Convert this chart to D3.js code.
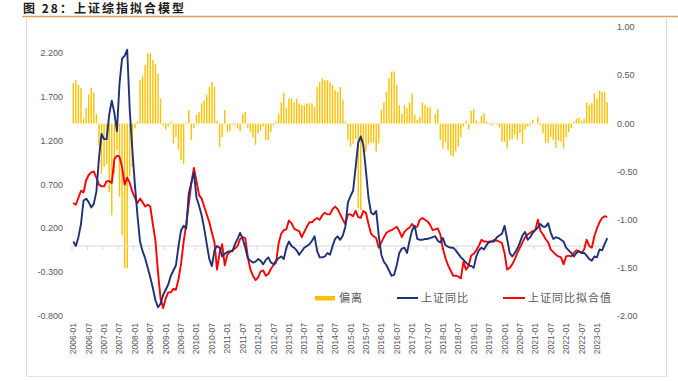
<!DOCTYPE html>
<html><head><meta charset="utf-8">
<script src="https://cdn.jsdelivr.net/npm/d3@7"></script>
<style>body{margin:0;background:#fff;}svg{display:block}</style>
</head><body>
<svg id="c" width="678" height="381"></svg>
<script>
// ---- data ----
const startYear = 2006, nMonths = 209;
const months = [];
for (let i = 0; i < nMonths; i++) {
  months.push((startYear + Math.floor(i / 12)) + "-" + String(i % 12 + 1).padStart(2, "0"));
}
const tickLabels = ["2006-01","2006-07","2007-01","2007-07","2008-01","2008-07","2009-01","2009-07",
  "2010-01","2010-07","2011-01","2011-07","2012-01","2012-07","2013-01","2013-07","2014-01","2014-07",
  "2015-01","2015-07","2016-01","2016-07","2017-01","2017-07","2018-01","2018-07","2019-01","2019-07",
  "2020-01","2020-07","2021-01","2021-07","2022-01","2022-07","2023-01"];
const leftTicks = [2.2, 1.7, 1.2, 0.7, 0.2, -0.3, -0.8];
const rightTicks = [1, 0.5, 0, -0.5, -1, -1.5, -2];
const seriesNames = ["偏离", "上证同比", "上证同比拟合值"];

// 偏离 (right axis)
const deviation = [
 0.42,0.45,0.40,0.37,0.05,0.16,0.30,0.37,0.32,0.10,
 -0.23,-0.52,-0.45,-0.42,-0.71,-0.95,-0.52,-0.28,-0.76,-1.16,
 -1.50,-1.50,-0.55,-0.45,-0.05,0.02,0.45,0.49,0.61,0.73,
 0.73,0.66,0.62,0.52,0.26,-0.02,-0.06,-0.03,0.02,-0.21,
 -0.14,-0.27,-0.38,-0.42,0.01,0.14,-0.17,-0.05,0.09,0.12,
 0.21,0.24,0.30,0.38,0.43,0.38,0.03,-0.24,-0.14,0.14,
 -0.09,-0.08,-0.01,-0.02,-0.05,-0.08,0.10,0.12,-0.05,-0.09,
 -0.14,-0.22,-0.10,-0.07,-0.03,-0.17,-0.17,-0.09,-0.02,0.02,
 0.10,0.22,0.32,0.16,0.26,0.26,0.22,0.26,0.21,0.19,
 0.19,0.21,0.21,0.21,0.17,0.38,0.43,0.47,0.45,0.45,
 0.43,0.40,0.35,0.33,0.38,0.25,0.02,-0.17,-0.24,-0.21,
 -0.16,-0.88,-0.90,-0.29,-0.29,-0.22,-0.20,-0.20,-0.29,-0.20,
 0.14,0.22,0.33,0.47,0.54,0.54,0.40,0.19,0.10,0.19,
 0.16,0.22,0.31,0.09,0.04,0.07,0.22,0.19,0.17,0.17,
 0.00,0.10,0.15,-0.17,-0.26,-0.19,-0.28,-0.33,-0.34,-0.29,
 -0.24,-0.14,-0.03,0.03,-0.06,0.13,0.15,0.03,0.01,0.08,
 0.11,0.02,-0.01,-0.02,0.01,-0.01,-0.04,-0.19,-0.19,-0.26,
 -0.17,-0.16,-0.12,-0.17,-0.10,-0.21,-0.06,-0.03,-0.02,0.04,
 0.00,0.07,-0.02,-0.10,-0.20,-0.20,-0.14,-0.17,-0.25,-0.18,
 -0.19,-0.26,-0.14,-0.09,-0.05,0.02,0.05,0.06,0.03,0.05,
 0.22,0.19,0.21,0.31,0.26,0.34,0.33,0.33,0.22];

// 上证同比 (left axis)
const szYoY = [
 0.05,0.00,0.10,0.25,0.52,0.54,0.50,0.44,0.48,0.62,
 1.00,1.28,1.22,1.22,1.50,1.66,1.52,1.31,1.85,2.14,
 2.17,2.24,1.55,1.10,0.70,0.35,0.05,-0.06,-0.14,-0.25,
 -0.36,-0.48,-0.62,-0.70,-0.66,-0.56,-0.50,-0.44,-0.34,-0.28,
 -0.22,0.00,0.18,0.23,0.20,0.60,0.72,0.84,0.55,0.46,
 0.35,0.20,0.02,-0.15,-0.23,-0.05,0.00,-0.02,-0.12,-0.09,
 -0.07,-0.06,-0.06,0.02,0.08,0.15,0.08,-0.02,-0.14,-0.17,
 -0.19,-0.18,-0.15,-0.17,-0.21,-0.16,-0.13,-0.19,-0.21,-0.17,
 -0.14,-0.12,-0.15,-0.02,0.05,0.00,-0.02,-0.05,-0.10,-0.06,
 -0.02,0.00,0.02,0.06,0.11,-0.06,-0.13,-0.13,-0.12,-0.08,
 -0.10,0.00,0.08,0.11,0.07,0.12,0.22,0.50,0.57,0.63,
 0.90,1.18,1.25,1.15,0.86,0.55,0.38,0.36,0.40,0.12,
 -0.10,-0.18,-0.22,-0.28,-0.34,-0.33,-0.22,-0.08,-0.03,-0.02,
 -0.08,0.06,0.18,0.23,0.08,0.07,0.07,0.08,0.08,0.09,
 0.10,0.11,0.06,0.04,0.09,0.01,-0.01,-0.02,-0.02,-0.05,
 -0.09,-0.13,-0.16,-0.19,-0.22,-0.23,-0.25,-0.12,-0.05,-0.02,
 -0.04,0.01,0.05,0.05,0.05,0.10,0.12,0.14,0.23,0.08,
 -0.08,-0.12,-0.08,-0.03,0.04,0.12,0.16,0.07,0.10,0.15,
 0.18,0.21,0.25,0.22,0.22,0.26,0.15,0.08,0.10,0.09,
 0.07,0.05,-0.02,-0.05,-0.08,-0.12,-0.08,-0.06,-0.08,-0.08,
 -0.11,-0.15,-0.17,-0.12,-0.13,-0.04,-0.05,0.02,0.09];

// 上证同比拟合值 (left axis)
const szFit = [
 0.49,0.47,0.55,0.63,0.61,0.75,0.81,0.84,0.85,0.78,
 0.70,0.68,0.68,0.74,0.74,0.72,0.99,1.03,1.02,0.90,
 0.70,0.78,0.72,0.62,0.55,0.49,0.54,0.50,0.45,0.47,
 0.45,0.25,0.06,-0.30,-0.60,-0.71,-0.60,-0.53,-0.53,-0.49,
 -0.50,-0.38,-0.20,0.05,0.25,0.48,0.72,0.89,0.74,0.58,
 0.54,0.45,0.36,0.27,0.15,0.04,-0.27,-0.08,0.02,-0.22,
 -0.10,-0.07,-0.05,-0.03,0.00,0.08,0.10,0.09,-0.13,-0.27,
 -0.34,-0.39,-0.36,-0.29,-0.28,-0.34,-0.32,-0.26,-0.22,-0.19,
 0.03,0.14,0.18,0.19,0.29,0.26,0.20,0.18,0.17,0.10,
 0.16,0.22,0.27,0.27,0.30,0.32,0.30,0.35,0.38,0.36,
 0.36,0.42,0.45,0.42,0.36,0.30,0.25,0.36,0.36,0.34,
 0.40,0.33,0.32,0.40,0.38,0.25,0.14,0.11,0.09,-0.02,
 0.04,0.10,0.15,0.17,0.18,0.20,0.22,0.17,0.10,0.16,
 0.19,0.21,0.25,0.21,0.22,0.30,0.32,0.30,0.28,0.24,
 0.18,0.19,0.20,0.13,-0.03,-0.14,-0.22,-0.28,-0.34,-0.34,
 -0.35,-0.37,-0.18,-0.27,-0.23,-0.11,-0.09,-0.05,0.00,0.07,
 0.05,0.05,0.04,0.05,0.07,0.06,0.05,0.03,-0.08,-0.27,
 -0.25,-0.21,-0.15,-0.08,-0.02,0.04,0.10,0.13,0.15,0.17,
 0.18,0.30,0.17,0.13,0.08,0.04,-0.04,-0.07,-0.10,-0.12,
 -0.13,-0.21,-0.12,-0.11,-0.12,-0.08,-0.05,-0.06,-0.08,-0.04,
 0.07,0.00,-0.02,0.11,0.20,0.27,0.32,0.34,0.33];

// ---- drawing ----
const svg = d3.select("#c");
const colBar = "#FFC000", colBlue = "#1F3175", colRed = "#FF0000", colText = "#595959";
const plotL = 72, plotR = 608.5;

const x = d3.scaleBand().domain(months).range([plotL, plotR]).paddingInner(0.45).paddingOuter(0.225);
const step = x.step();
const yL = d3.scaleLinear().domain([-0.8, 2.2]).range([316, 53.3]);
const yR = d3.scaleLinear().domain([-2, 1]).range([316, 27.3]);

// frame + title
svg.append("line").attr("x1", 26.5).attr("x2", 26.5).attr("y1", 18).attr("y2", 376.5).attr("stroke", "#d9d9d9");
svg.append("line").attr("x1", 666.5).attr("x2", 666.5).attr("y1", 18).attr("y2", 376.5).attr("stroke", "#d9d9d9");
svg.append("line").attr("x1", 26.5).attr("x2", 666.5).attr("y1", 376.5).attr("y2", 376.5).attr("stroke", "#e6e6e6");
svg.append("line").attr("x1", 22).attr("x2", 678).attr("y1", 16.5).attr("y2", 16.5).attr("stroke", "#D9A25A").attr("stroke-width", 1.5);
svg.append("text").attr("x", 23).attr("y", 13).attr("font-family", "'Noto Sans CJK SC'").attr("font-weight", "bold")
  .attr("font-size", 12).attr("letter-spacing", 2).attr("fill", "#1a1a1a").text("图 28：上证综指拟合模型");

// bars
svg.append("g").selectAll("rect").data(deviation).join("rect")
  .attr("x", (d, i) => x(months[i]))
  .attr("width", x.bandwidth())
  .attr("y", d => Math.min(yR(d), yR(0)))
  .attr("height", d => Math.abs(yR(d) - yR(0)))
  .attr("fill", colBar);

// zero axis line + ticks
const y0 = yL(0);
svg.append("line").attr("x1", plotL).attr("x2", plotR).attr("y1", y0).attr("y2", y0).attr("stroke", "#d9d9d9").attr("stroke-width", 1);
const tickIdx = tickLabels.map(t => months.indexOf(t));
svg.append("g").selectAll("line").data(tickIdx).join("line")
  .attr("x1", i => x(months[i]) - step * 0.225).attr("x2", i => x(months[i]) - step * 0.225)
  .attr("y1", y0).attr("y2", y0 + 4).attr("stroke", "#d9d9d9");

// lines
const lineGen = arr => d3.line().x((d, i) => x(months[i]) + x.bandwidth() / 2).y(d => yL(d))(arr);
svg.append("path").attr("d", lineGen(szFit)).attr("fill", "none").attr("stroke", colRed).attr("stroke-width", 1.9).attr("stroke-linejoin", "round");
svg.append("path").attr("d", lineGen(szYoY)).attr("fill", "none").attr("stroke", colBlue).attr("stroke-width", 1.9).attr("stroke-linejoin", "round");

// left axis labels
svg.append("g").selectAll("text").data(leftTicks).join("text")
  .attr("x", 63).attr("y", d => yL(d) + 3).attr("text-anchor", "end")
  .attr("font-family", "'Liberation Sans', Arial").attr("font-size", 9).attr("fill", colText)
  .text(d => d3.format(".3f")(d).replace("−", "-"));
// right axis labels
svg.append("g").selectAll("text").data(rightTicks).join("text")
  .attr("x", 617).attr("y", d => yR(d) + 3).attr("text-anchor", "start")
  .attr("font-family", "'Liberation Sans', Arial").attr("font-size", 9).attr("fill", colText)
  .text(d => d3.format(".2f")(d).replace("−", "-"));
// x labels
svg.append("g").selectAll("text").data(tickLabels).join("text")
  .attr("transform", t => `translate(${x(t) + x.bandwidth() / 2 + 3},323) rotate(-90)`)
  .attr("text-anchor", "end")
  .attr("font-family", "'Liberation Sans', Arial").attr("font-size", 8.5).attr("fill", colText)
  .text(t => t);

// legend
const lg = svg.append("g").attr("font-family", "'Noto Sans CJK SC'").attr("font-size", 11).attr("fill", colText).attr("letter-spacing", 1);
lg.append("rect").attr("x", 315).attr("y", 296).attr("width", 20).attr("height", 4.5).attr("fill", colBar);
lg.append("text").attr("x", 339).attr("y", 302).text(seriesNames[0]);
lg.append("line").attr("x1", 397).attr("x2", 418).attr("y1", 298).attr("y2", 298).attr("stroke", colBlue).attr("stroke-width", 2);
lg.append("text").attr("x", 421).attr("y", 302).text(seriesNames[1]);
lg.append("line").attr("x1", 503).attr("x2", 525).attr("y1", 298).attr("y2", 298).attr("stroke", colRed).attr("stroke-width", 2);
lg.append("text").attr("x", 528).attr("y", 302).text(seriesNames[2]);
</script>
</body></html>
